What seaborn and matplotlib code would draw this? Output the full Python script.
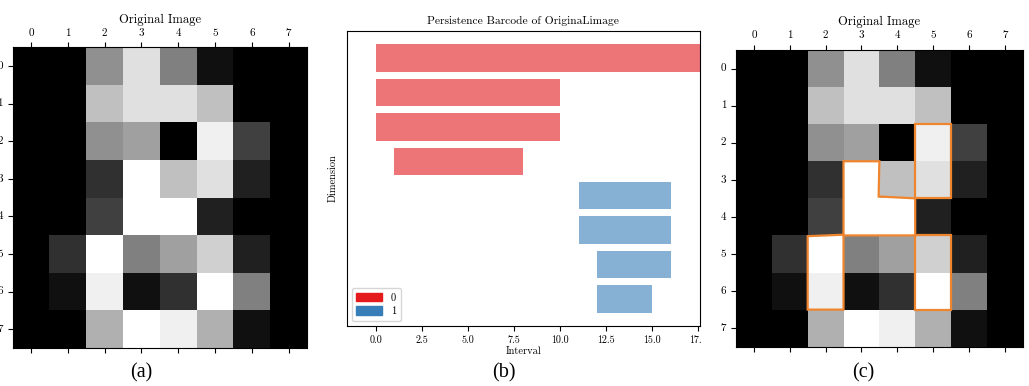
import numpy as np
import pandas as pd
import matplotlib
matplotlib.use("Agg")
import matplotlib.pyplot as plt
import seaborn as sns
from matplotlib.patches import Polygon, Patch
from matplotlib.transforms import Bbox, TransformedBbox

# 8x8 grayscale digit (intensity 0..16)
digit = np.array([
    [0, 0, 9, 14, 8, 1, 0, 0],
    [0, 0, 12, 14, 14, 12, 0, 0],
    [0, 0, 9, 10, 0, 15, 4, 0],
    [0, 0, 3, 16, 12, 14, 2, 0],
    [0, 0, 4, 16, 16, 2, 0, 0],
    [0, 3, 16, 8, 10, 13, 2, 0],
    [0, 1, 15, 1, 3, 16, 8, 0],
    [0, 0, 11, 16, 15, 11, 1, 0],
])
pixel_labels = list(range(8))

# persistence intervals (birth, death) per homology dimension
dims = [0, 0, 0, 0, 1, 1, 1, 1]
births = [0, 0, 0, 1, 11, 11, 12, 12]
deaths = [np.inf, 10, 10, 8, 16, 16, 16, 15]
barcode_ticks = [0.0, 2.5, 5.0, 7.5, 10.0, 12.5, 15.0, 17.5]

# cycle outlines in pixel-corner coordinates (column, row)
cycles = [
    [(4.5, 1.5), (5.5, 1.5), (5.5, 3.5), (4.5, 3.5)],
    [(2.5, 2.5), (3.5, 2.5), (3.48, 3.45), (4.5, 3.5), (4.5, 4.5), (2.5, 4.5)],
    [(1.5, 4.52), (2.5, 4.48), (2.5, 6.5), (1.5, 6.5)],
    [(4.5, 4.5), (5.5, 4.5), (5.5, 6.5), (4.5, 6.5)],
]

plt.rcParams.update({
    "font.family": "serif",
    "font.serif": ["cmr10", "DejaVu Serif"],
    "mathtext.fontset": "cm",
    "axes.formatter.use_mathtext": True,
    "axes.unicode_minus": False,
})

W, H = 1029, 386
fig = plt.figure(figsize=(W / 100, H / 100), dpi=100)


def px_axes(left, top, right, bottom):
    return fig.add_axes([left / W, 1 - bottom / H, (right - left) / W, (bottom - top) / H])


def digit_panel(ax, title, fs_tick=8, fs_title=9, pad=4):
    df = pd.DataFrame(digit, index=pixel_labels, columns=pixel_labels)
    sns.heatmap(df, ax=ax, cmap="gray", vmin=0, vmax=16, cbar=False,
                square=False, linewidths=0)
    for s in ax.spines.values():
        s.set_visible(True)
        s.set_linewidth(0.8)
    ax.tick_params(axis="x", bottom=True, top=True, labelbottom=False,
                   labeltop=True, labelsize=fs_tick, rotation=0)
    ax.tick_params(axis="y", left=True, labelsize=fs_tick, rotation=0)
    ax.set_xlabel("")
    ax.set_ylabel("")
    ax.set_title(title, fontsize=fs_title, pad=pad)


# (a) original image
ax_a = px_axes(12.7, 47.3, 307, 348)
digit_panel(ax_a, "Original Image", pad=4)

# (b) persistence barcode
ax_b = px_axes(346.5, 31, 700.2, 326)
set1 = sns.color_palette("Set1")
x_lo, x_hi = -1.6, 17.6
n = len(births)
ypos = np.arange(n)[::-1]
for y, d, b, e in zip(ypos, dims, births, deaths):
    end = x_hi if np.isinf(e) else e
    ax_b.barh(y, end - b, left=b, height=0.8, color=set1[d], alpha=0.6, linewidth=0)
ax_b.set_xlim(x_lo, x_hi)
ax_b.set_yticks([])
ax_b.set_xticks(barcode_ticks)
ax_b.set_xticklabels([f"{t:.1f}" for t in barcode_ticks])
ax_b.tick_params(axis="x", labelsize=7.2)
ax_b.set_xlabel("Interval", fontsize=7.5, labelpad=1)
ax_b.set_ylabel("Dimension", fontsize=7.5, labelpad=6)
ax_b.set_title("Persistence Barcode of OriginaLimage", fontsize=8.3, pad=5)
handles = [Patch(color=set1[0], label="0"), Patch(color=set1[1], label="1")]
ax_b.legend(handles=handles, loc="lower left", fontsize=7.5, handlelength=2.5,
            handleheight=0.9, borderpad=0.45, labelspacing=0.35, handletextpad=0.8)
clip = TransformedBbox(Bbox([[0, 0], [701 / W, 1]]), fig.transFigure)
for lab in ax_b.get_xticklabels():
    lab.set_clip_box(clip)
    lab.set_clip_on(True)

# (c) original image with cycles outlined
ax_c = px_axes(736, 50, 1022.7, 346.7)
digit_panel(ax_c, "Original Image", pad=4)
for poly in cycles:
    pts = [(x + 0.5, y + 0.5) for x, y in poly]
    ax_c.add_patch(Polygon(pts, closed=True, fill=False, edgecolor="#f0852f",
                           linewidth=1.6, joinstyle="miter"))

# panel captions
for xc, tag in [(141, "(a)"), (504, "(b)"), (863, "(c)")]:
    fig.text(xc / W, 1 - 373 / H, tag, ha="center", va="center",
             fontsize=14.5, family="Liberation Serif")

fig.savefig("out.png", dpi=100)
